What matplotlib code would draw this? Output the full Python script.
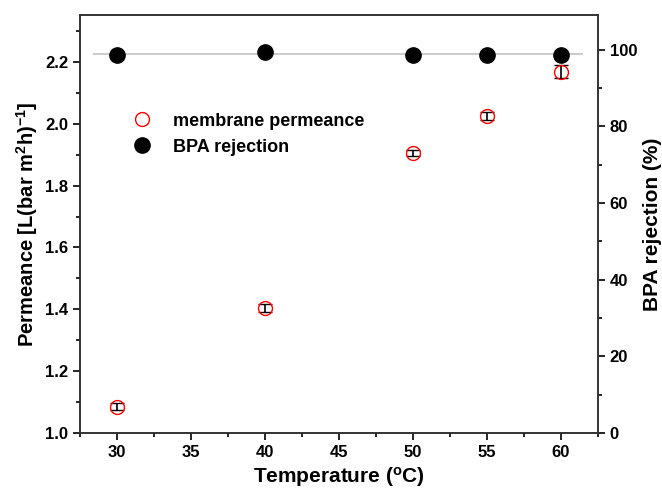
import matplotlib
matplotlib.use("Agg")
import matplotlib.pyplot as plt
from matplotlib.ticker import MultipleLocator
from matplotlib.lines import Line2D

plt.rcParams['font.family'] = ['Liberation Sans', 'DejaVu Sans']
plt.rcParams['font.weight'] = 'bold'
plt.rcParams['mathtext.default'] = 'regular'

# data
temperature = [30, 40, 50, 55, 60]
permeance = [1.085, 1.404, 1.906, 2.025, 2.169]
permeance_err = [0.012, 0.012, 0.010, 0.012, 0.020]
rejection = [98.6, 99.4, 98.6, 98.7, 98.7]
mean_rejection = 99.0

fig, ax = plt.subplots(figsize=(6.62, 5.0), dpi=100)
fig.subplots_adjust(left=0.121, right=0.903, top=0.97, bottom=0.134)
ax2 = ax.twinx()

ax2.hlines(mean_rejection, 28.4, 61.5, color='#cccccc', lw=1.5, zorder=1)
ax2.plot(temperature, rejection, 'o', color='black', ms=11, zorder=3,
         label='BPA rejection')

ax.errorbar(temperature, permeance, yerr=permeance_err, fmt='o', mfc='none',
            mec='red', ms=10, mew=1.0, ecolor='black', elinewidth=1.2,
            capsize=5, capthick=1.2, zorder=4, label='membrane permeance')
ax.set_zorder(ax2.get_zorder() + 1)
ax.patch.set_visible(False)

ax.set_xlim(27.5, 62.5)
ax.set_ylim(1.0, 2.352)
ax2.set_ylim(0, 109.1)

ax.xaxis.set_major_locator(MultipleLocator(5))
ax.xaxis.set_minor_locator(MultipleLocator(2.5))
ax.yaxis.set_major_locator(MultipleLocator(0.2))
ax.yaxis.set_minor_locator(MultipleLocator(0.1))
ax2.yaxis.set_major_locator(MultipleLocator(20))
ax2.yaxis.set_minor_locator(MultipleLocator(10))

for a in (ax, ax2):
    a.tick_params(which='major', direction='out', length=5, width=1.2, labelsize=12)
    a.tick_params(which='minor', direction='out', length=3, width=1.2)
    for s in a.spines.values():
        s.set_linewidth(1.2)
        s.set_color('#333333')
ax.tick_params(axis='y', which='both', right=False)
ax2.tick_params(axis='y', which='both', left=False)

ax.set_xlabel('Temperature ($^o$C)', fontsize=15, fontweight='bold')
ax.set_ylabel('Permeance [L(bar m$^2$h)$^{-1}$]', fontsize=14.5, fontweight='bold')
ax2.set_ylabel('BPA rejection (%)', fontsize=15, fontweight='bold')

handles = [Line2D([], [], ls='none', marker='o', mfc='none', mec='red', ms=10, mew=1.0),
           Line2D([], [], ls='none', marker='o', color='black', ms=11)]
ax.legend(handles, ['membrane permeance', 'BPA rejection'], loc='upper left',
          bbox_to_anchor=(0.054, 0.805), frameon=False,
          handletextpad=0.72, labelspacing=0.5, prop={'weight': 'bold', 'size': 13})

fig.savefig('out.png', dpi=100)
